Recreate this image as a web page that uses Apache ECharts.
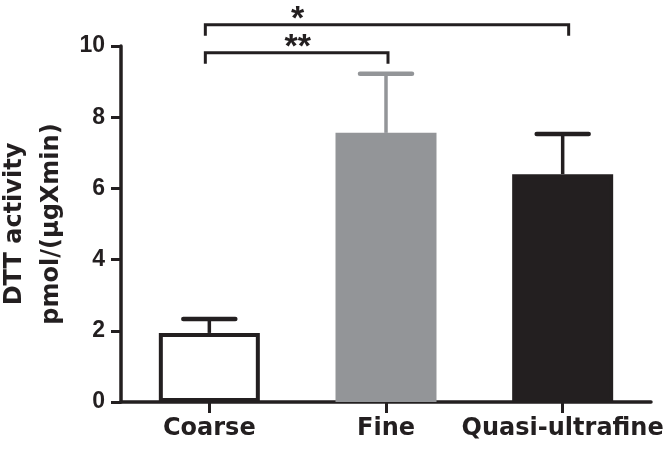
<!DOCTYPE html>
<html>
<head>
<meta charset="utf-8">
<script src="https://cdn.jsdelivr.net/npm/echarts@6/dist/echarts.min.js"></script>
<style>
html,body{margin:0;padding:0;background:#fff;}
#c{width:666px;height:451px;}
</style>
</head>
<body>
<div id="c"></div>
<script>
// ---- data ----
const categories = ['Coarse', 'Fine', 'Quasi-ultrafine'];
const means = [1.94, 7.56, 6.40];
const errorTops = [2.33, 9.22, 7.53];
const fillColors = ['#ffffff', '#939598', '#231f20'];
const edgeColors = ['#231f20', '#939598', '#231f20'];
const yMin = 0, yMax = 10, yStep = 2;
const yTitle = 'DTT activity\npmol/(\u00b5gXmin)';
// significance brackets
const bracketFrom = [0, 0];
const bracketTo = [2, 1];
const bracketLevel = [10.6, 9.81];
const bracketLabel = ['*', '**'];

const ink = '#231f20';
const chart = echarts.init(document.getElementById('c'), null, {renderer: 'canvas'});

const barData = means.map((v, i) => ({
  value: v,
  itemStyle: {color: fillColors[i], borderColor: edgeColors[i], borderWidth: 4}
}));
const errData = means.map((v, i) => [i, v, errorTops[i]]);
const brData = bracketFrom.map((f, i) => [f, bracketTo[i], bracketLevel[i], i]);

chart.setOption({
  animation: false,
  backgroundColor: '#ffffff',
  grid: {left: 121, right: 15, top: 46, bottom: 49, containLabel: false, outerBoundsMode: 'none'},
  xAxis: {
    type: 'category',
    data: categories,
    axisLine: {lineStyle: {color: ink, width: 3.5}},
    axisTick: {show: true, alignWithLabel: true, length: 11, lineStyle: {color: ink, width: 3}},
    axisLabel: {interval: 0, hideOverlap: false, color: ink, fontFamily: 'DejaVu Sans', fontWeight: 'bold', fontSize: 24, margin: 15},
    splitLine: {show: false}
  },
  yAxis: {
    type: 'value',
    min: yMin, max: yMax, interval: yStep,
    name: yTitle,
    nameLocation: 'middle',
    nameRotate: 90,
    nameGap: 51,
    nameMoveOverlap: false,
    nameTextStyle: {color: ink, fontFamily: 'DejaVu Sans', fontWeight: 'bold', fontSize: 24, lineHeight: 37, align: 'center'},
    axisLine: {show: true, lineStyle: {color: ink, width: 3.5}},
    axisTick: {show: true, length: 10, lineStyle: {color: ink, width: 3}},
    axisLabel: {color: ink, fontFamily: 'Liberation Sans', fontWeight: 'bold', fontSize: 23, margin: 16},
    splitLine: {show: false}
  },
  series: [
    {
      type: 'bar',
      data: barData,
      barWidth: 101,
      z: 3
    },
    {
      type: 'custom',
      clip: false,
      z: 2,
      data: errData,
      renderItem: function (params, api) {
        const i = api.value(0);
        const base = api.coord([i, api.value(1)]);
        const top = api.coord([i, api.value(2)]);
        const col = edgeColors[i];
        return {
          type: 'group',
          children: [
            {type: 'line', shape: {x1: base[0], y1: base[1], x2: top[0], y2: top[1]},
             style: {stroke: col, lineWidth: 3.5}},
            {type: 'line', shape: {x1: top[0] - 26, y1: top[1], x2: top[0] + 26, y2: top[1]},
             style: {stroke: col, lineWidth: 4.5, lineCap: 'round'}}
          ]
        };
      }
    },
    {
      type: 'custom',
      clip: false,
      z: 4,
      data: brData,
      renderItem: function (params, api) {
        const a = api.coord([api.value(0), api.value(2)]);
        const b = api.coord([api.value(1), api.value(2)]);
        const c0 = api.coord([0, api.value(2)]);
        const c1 = api.coord([1, api.value(2)]);
        const idx = api.value(3);
        const drop = 11;
        const lx = (c0[0] + c1[0]) / 2;
        return {
          type: 'group',
          children: [
            {type: 'polyline', shape: {points: [[a[0] - 4, a[1] + drop], [a[0] - 4, a[1]], [b[0] + (idx === 0 ? 6 : 2), b[1]], [b[0] + (idx === 0 ? 6 : 2), b[1] + drop]]},
             style: {stroke: ink, lineWidth: 3, fill: null}},
            {type: 'text', x: lx, y: a[1] + 12,
             style: {text: bracketLabel[idx], fill: ink, font: 'bold 34px "Liberation Sans"', textAlign: 'center', textVerticalAlign: 'bottom'}}
          ]
        };
      }
    }
  ]
});
</script>
</body>
</html>
